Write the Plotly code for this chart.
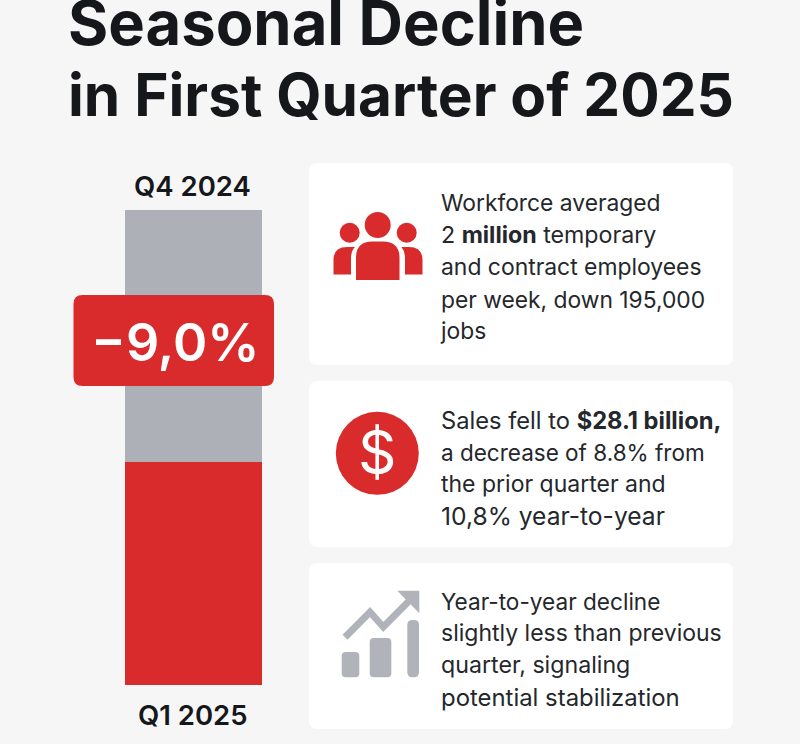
import plotly.graph_objects as go

W, H = 800, 744
TITLE_LINES = ["Seasonal Decline", "in First Quarter of 2025"]
BAR_CATEGORY = ["Workforce"]
SERIES_NAMES = ["Q1 2025", "Q4 2024 remainder"]
Q1_2025_VALUE = [47]
Q4_2024_REMAINDER = [53]
BADGE_TEXT = "\u22129,0%"
CARD1_LINES = ["Workforce averaged", "2 <b>million</b> temporary", "and contract employees", "per week, down 195,000", "jobs"]
CARD2_LINES = ["Sales fell to <b>$28.1 billion,</b>", "a decrease of 8.8% from", "the prior quarter and", "10,8% year-to-year"]
CARD3_LINES = ["Year-to-year decline", "slightly less than previous", "quarter, signaling", "potential stabilization"]
CARD1_SIZES = [22.8, 23.2, 22.9, 22.8, 22.8]
CARD2_SIZES = [23.7, 22.5, 23.0, 24.6]
CARD3_SIZES = [22.6, 23.0, 23.2, 23.9]

RED = "#d92b2b"
GRAY = "#adb1b7"
ICON = "#b0b4ba"
INK = "#15171a"
BG = "#f6f6f6"
FONT = "Inter"

def X(x): return x / W
def Y(y): return 1 - y / H

def P(cmds):
    out = []
    for c in cmds:
        if c[0] == "Z":
            out.append("Z")
        else:
            pts = c[1:]
            s = " ".join(f"{X(pts[i]):.5f},{Y(pts[i+1]):.5f}" for i in range(0, len(pts), 2))
            out.append(c[0] + s)
    return " ".join(out)

def rrect(x0, y0, x1, y1, r):
    return [("M", x0 + r, y0), ("L", x1 - r, y0), ("Q", x1, y0, x1, y0 + r), ("L", x1, y1 - r),
            ("Q", x1, y1, x1 - r, y1), ("L", x0 + r, y1), ("Q", x0, y1, x0, y1 - r), ("L", x0, y0 + r),
            ("Q", x0, y0, x0 + r, y0), ("Z",)]

def path(cmds, fill, layer="above"):
    return dict(type="path", xref="paper", yref="paper", path=P(cmds), fillcolor=fill,
                line=dict(width=0), layer=layer)

def circle(cx, cy, r, fill):
    return dict(type="circle", xref="paper", yref="paper", x0=X(cx - r), x1=X(cx + r),
                y0=Y(cy + r), y1=Y(cy - r), fillcolor=fill, line=dict(width=0), layer="above")

fig = go.Figure()
fig.add_bar(x=BAR_CATEGORY, y=Q1_2025_VALUE, name=SERIES_NAMES[0], marker=dict(color=RED, line=dict(width=0)))
fig.add_bar(x=BAR_CATEGORY, y=Q4_2024_REMAINDER, name=SERIES_NAMES[1], marker=dict(color=GRAY, line=dict(width=0)))

shapes = [
    path(rrect(309, 163, 733, 365, 9), "#ffffff", "below"),
    path(rrect(309, 381, 733, 547, 9), "#ffffff", "below"),
    path(rrect(309, 563, 733, 729, 9), "#ffffff", "below"),
    path(rrect(73.5, 295, 274, 386, 9), RED),
    # people icon
    circle(377.7, 225, 13, RED), circle(349.7, 232.7, 10, RED), circle(406.7, 232.7, 10, RED),
    path([("M", 356, 280), ("L", 356, 258), ("Q", 356, 241.5, 372, 241.5), ("L", 383, 241.5),
          ("Q", 399.5, 241.5, 399.5, 258), ("L", 399.5, 280), ("Z",)], RED),
    path([("M", 333.5, 274.5), ("L", 333.5, 260), ("Q", 333.5, 247, 347, 247), ("L", 355, 247),
          ("Q", 351, 251, 351, 258), ("L", 351, 274.5), ("Z",)], RED),
    path([("M", 422.5, 274.5), ("L", 422.5, 260), ("Q", 422.5, 247, 409, 247), ("L", 401.5, 247),
          ("Q", 405, 251, 405, 258), ("L", 405, 274.5), ("Z",)], RED),
    # dollar icon
    circle(377.3, 453.3, 41.5, RED),
    # growth icon
    path(rrect(341.7, 652, 359.3, 677.3, 4), ICON),
    path(rrect(369.7, 638, 391.3, 677.3, 4), ICON),
    path(rrect(407.3, 620, 419, 677.3, 5), ICON),
    path([("M", 397.3, 590.7), ("L", 419.3, 590.7), ("L", 419.3, 613.3), ("Z",)], ICON),
    dict(type="path", xref="paper", yref="paper",
         path=P([("M", 345, 637.3), ("L", 370, 612), ("L", 383.3, 627), ("L", 409, 601)]),
         line=dict(color=ICON, width=7), fillcolor="rgba(0,0,0,0)", layer="above"),
]

def text(s, x, y, size, color=INK, anchor="left", weight=400, family=FONT):
    fig.add_annotation(text=s, x=X(x), y=Y(y), xref="paper", yref="paper", xanchor=anchor, yanchor="middle",
                       showarrow=False, align=anchor, borderpad=0,
                       font=dict(family=family, size=size, color=color, weight=weight))

text(TITLE_LINES[0], 66.5, 23, 61.5, weight=700)
text(TITLE_LINES[1], 67, 94, 58.5, weight=700)
text("Q4 2024", 192, 186, 27.5, anchor="center", weight=600)
text(SERIES_NAMES[0], 193, 715, 27.5, anchor="center", weight=600)
text(BADGE_TEXT, 175, 343, 52, color="#ffffff", anchor="center", weight=600)
text("$", 377.3, 452, 60, color="#ffffff", anchor="center", weight=400)

for lines, sizes, y0 in ((CARD1_LINES, CARD1_SIZES, 203), (CARD2_LINES, CARD2_SIZES, 420), (CARD3_LINES, CARD3_SIZES, 601)):
    for i, line in enumerate(lines):
        text(line, 439.5, y0 + i * 32, sizes[i], color="#24272b")

fig.update_layout(
    width=W, height=H, margin=dict(l=0, r=0, t=0, b=0), barmode="stack", bargap=0,
    paper_bgcolor=BG, plot_bgcolor="rgba(0,0,0,0)", showlegend=False, shapes=shapes,
    xaxis=dict(domain=[X(125), X(262)], visible=False, fixedrange=True),
    yaxis=dict(domain=[Y(685), Y(210)], range=[0, 100], visible=False, fixedrange=True),
)
fig.write_html("out.html", config=dict(displayModeBar=False),
               post_script="document.body.style.margin='0';document.body.style.background='#f6f6f6';")
